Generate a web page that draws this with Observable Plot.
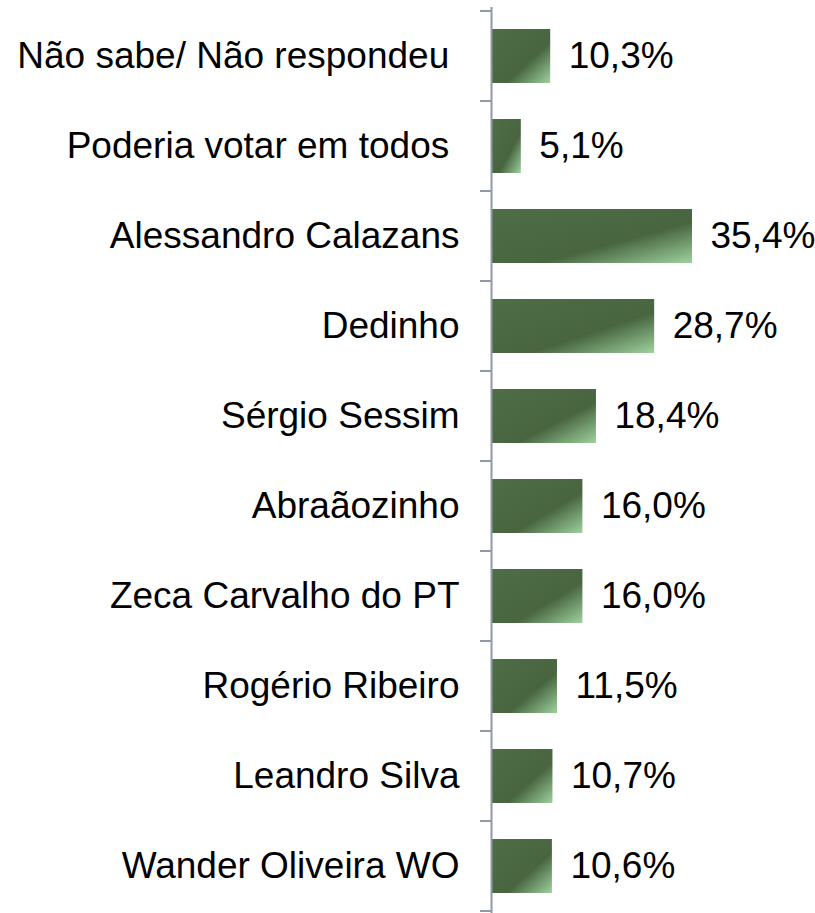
<!DOCTYPE html>
<html>
<head>
<meta charset="utf-8">
<script src="https://cdn.jsdelivr.net/npm/d3@7"></script>
<script src="https://cdn.jsdelivr.net/npm/@observablehq/plot@0.6"></script>
<style>
  html, body { margin: 0; padding: 0; background: #fff; overflow: hidden; }
  svg text { white-space: pre; }
</style>
</head>
<body>
<div id="chart"></div>
<script>
const categories = [
  "Não sabe/ Não respondeu ",
  "Poderia votar em todos ",
  "Alessandro Calazans",
  "Dedinho",
  "Sérgio Sessim",
  "Abraãozinho",
  "Zeca Carvalho do PT",
  "Rogério Ribeiro",
  "Leandro Silva",
  "Wander Oliveira WO"
];
const values = [10.3, 5.1, 35.4, 28.7, 18.4, 16.0, 16.0, 11.5, 10.7, 10.6];

const data = categories.map((c, i) => ({category: c, value: values[i]}));
const fmt = v => v.toFixed(1).replace(".", ",") + "%";

const PAD_INNER = 0.4, PAD_OUTER = 0.2;

// gradient definitions
function gradientDefs() {
  const g = d3.create("svg:g");
  const lg = g.append("defs").append("linearGradient")
    .attr("id", "barGrad")
    .attr("x1", 0).attr("y1", 0).attr("x2", 1).attr("y2", 1);
  lg.append("stop").attr("offset", "0").attr("stop-color", "#4e6e47");
  lg.append("stop").attr("offset", "0.62").attr("stop-color", "#486540");
  lg.append("stop").attr("offset", "1").attr("stop-color", "#9ed29e");
  return g.node();
}

// ticks at category band boundaries
function boundaryTicks(index, scales) {
  const y = scales.y;
  const a = y(categories[0]), b = y(categories[1]);
  const step = b - a;
  const bw = step * (1 - PAD_INNER);
  const x0 = scales.x(0);
  const g = d3.create("svg:g").attr("stroke", "#8f9aa6").attr("stroke-width", 2);
  const ys = categories.map(c => y(c) + bw / 2 - step / 2);
  ys.push(y(categories[categories.length - 1]) + bw / 2 + step / 2);
  for (const yy of ys) {
    g.append("line").attr("x1", x0 - 12).attr("x2", x0).attr("y1", yy).attr("y2", yy);
  }
  return g.node();
}

const chart = Plot.plot({
  width: 815,
  height: 915,
  marginTop: 7,
  marginBottom: 0,
  marginLeft: 492,
  marginRight: 97,
  style: {fontFamily: "'Liberation Sans', Arial, sans-serif", fontSize: "37px", color: "#000", background: "#fff"},
  x: {domain: [0, 40], axis: null},
  y: {domain: categories, paddingInner: PAD_INNER, paddingOuter: PAD_OUTER, label: null},
  marks: [
    gradientDefs,
    Plot.barX(data, {y: "category", x: "value", fill: "url(#barGrad)"}),
    Plot.ruleX([0], {stroke: "#8f9aa6", strokeWidth: 2, dx: -1}),
    boundaryTicks,
    Plot.axisY({tickSize: 0, tickPadding: 33, fontSize: 37, fill: "#000", label: null}),
    Plot.text(data, {y: "category", x: "value", text: d => fmt(d.value), dx: 18, textAnchor: "start", fontSize: 37, fill: "#000"})
  ]
});
document.getElementById("chart").appendChild(chart);
</script>
</body>
</html>
